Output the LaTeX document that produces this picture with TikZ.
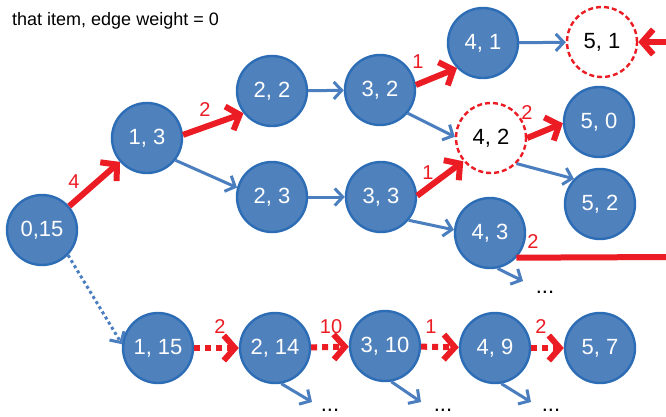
\documentclass[tikz,border=0pt]{standalone}
\usepackage{fontspec}
\setmainfont{Liberation Sans}
\usetikzlibrary{arrows.meta}
\definecolor{nodeblue}{HTML}{4F81BD}
\definecolor{edgeblue}{HTML}{4A7EBE}
\definecolor{borderblue}{HTML}{2D6DB5}
\definecolor{wred}{HTML}{EC1C24}
\begin{document}
\begin{tikzpicture}[x=1pt,y=-1pt,
  st/.style={circle,minimum size=70pt,inner sep=0pt,line width=2.4pt,font=\fontsize{22}{24}\selectfont},
  bluenode/.style={st,draw=borderblue,fill=nodeblue,text=white},
  emptynode/.style={st,draw=wred,dash pattern=on 5pt off 3pt,fill=white,text=black},
  blueedge/.style={draw=edgeblue,line width=3pt,-{Straight Barb[length=8pt,width=17pt]}},
  rededge/.style={draw=wred,line width=6pt,-{Straight Barb[length=11pt,width=25pt]}},
  reddash/.style={rededge,dash pattern=on 6pt off 5pt},
  blueds/.style={blueedge,dash pattern=on 3pt off 3pt},
  wlabel/.style={text=wred,font=\fontsize{20}{22}\selectfont,inner sep=0pt},
  dotslabel/.style={font=\fontsize{22}{24}\selectfont,inner sep=0pt},
]
\clip (0,0) rectangle (666,416);
\fill[white] (0,0) rectangle (666,416);

\node[anchor=base west,inner sep=0pt,font=\fontsize{18}{20}\selectfont] (title) at (12,25) {that item, edge weight = 0};

% nodes
\node[bluenode] (n015) at (42,230) {0,15};
\node[bluenode] (n13) at (147,138) {1, 3};
\node[bluenode] (n22) at (272,91) {2, 2};
\node[bluenode] (n23) at (272,197) {2, 3};
\node[bluenode] (n32) at (380,90) {3, 2};
\node[bluenode] (n33) at (381,197) {3, 3};
\node[bluenode] (n41) at (483,43) {4, 1};
\node[emptynode] (n51) at (602,42) {5, 1};
\node[emptynode] (n42) at (491,138) {4, 2};
\node[bluenode] (n50) at (599,122) {5, 0};
\node[bluenode] (n52) at (600,204) {5, 2};
\node[bluenode] (n43) at (490,233) {4, 3};
\node[bluenode] (n115) at (158,348) {1, 15};
\node[bluenode] (n214) at (275,348) {2, 14};
\node[bluenode] (n310) at (385,346) {3, 10};
\node[bluenode] (n49) at (495,348) {4, 9};
\node[bluenode] (n57) at (600,348) {5, 7};

% dots
\node[dotslabel] (d43) at (545,292) {...};
\node[dotslabel] (d214) at (330,410) {...};
\node[dotslabel] (d310) at (443,410) {...};
\node[dotslabel] (d49) at (551,410) {...};

\coordinate (e43) at (672,257);
\coordinate (e51) at (672,42);
\coordinate (t43) at (523,281);
\coordinate (t214) at (312,402);
\coordinate (t310) at (421,402);
\coordinate (t49) at (531,402);

% blue edges
\draw[blueedge] (n13.-38) -- (n23.165);
\draw[blueedge] (n22) -- (n32);
\draw[blueedge] (n23) -- (n33);
\draw[blueedge] (n32.-40) -- (n42.178);
\draw[blueedge] (n33.-40) -- (n43.175);
\draw[blueedge] (n41) -- (n51);
\draw[blueedge] (n42.-45) -- (n52.136);
\draw[blueedge] (n43.-78) -- (t43);
\draw[blueedge] (n214.-80) -- (t214);
\draw[blueedge] (n310.-80) -- (t310);
\draw[blueedge] (n49.-80) -- (t49);
\draw[blueds] (n015.-44) -- (n115.174);

% red edges
\draw[rededge] (n015) -- (n13);
\draw[rededge] (n13.5) -- (n22.218);
\draw[rededge] (n32.8) -- (n41.224);
\draw[rededge] (n33.2) -- (n42.220);
\draw[rededge] (n42.0) -- (n50.182);
\draw[rededge] (e51) -- (n51);
\draw[draw=wred,line width=6pt] (n43.-43) -- (e43);
\draw[reddash] (n115) -- (n214);
\draw[reddash] (n214) -- (n310);
\draw[reddash] (n310) -- (n49);
\draw[reddash] (n49) -- (n57);

% weights
\node[wlabel] (w1) at (74,182) {4};
\node[wlabel] (w2) at (205,110) {2};
\node[wlabel] (w3) at (418,62) {1};
\node[wlabel] (w4) at (428,173) {1};
\node[wlabel] (w5) at (527,113) {2};
\node[wlabel] (w6) at (533,242) {2};
\node[wlabel] (w7) at (220,327) {2};
\node[wlabel] (w8) at (331,327) {10};
\node[wlabel] (w9) at (431,327) {1};
\node[wlabel] (w10) at (541,327) {2};
\end{tikzpicture}
\end{document}
